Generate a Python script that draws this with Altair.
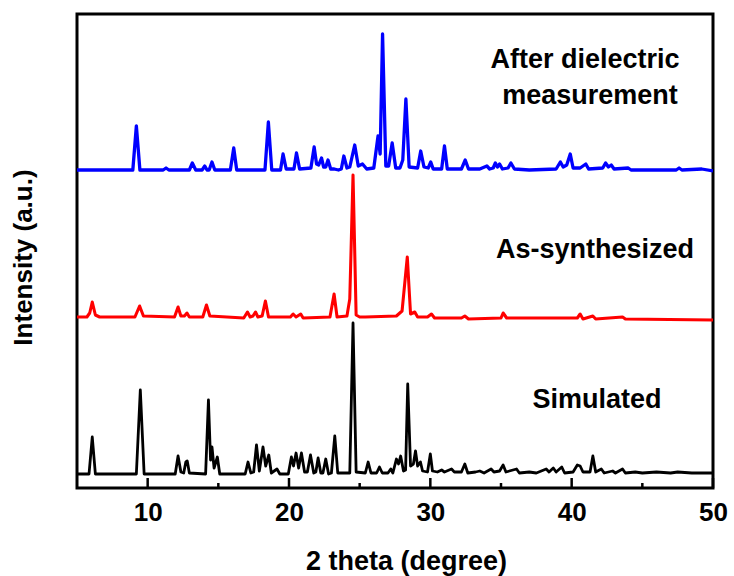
import altair as alt
import pandas as pd

# ---- Simulated (black) : 2theta and intensity above its own baseline ----
sim_2theta = [5.0, 5.85, 6.08, 6.3, 9.2, 9.48, 9.75, 11.95, 12.15, 12.35, 12.55, 12.7, 12.8, 12.95,
              14.1, 14.3, 14.45, 14.55, 14.7, 14.93, 15.1, 16.9, 17.1, 17.3, 17.5, 17.7, 17.9, 18.16,
              18.35, 18.57, 18.75, 19.15, 19.35, 19.95, 20.17, 20.32, 20.5, 20.68, 20.88, 21.1, 21.3,
              21.52, 21.75, 21.9, 22.06, 22.25, 22.4, 22.6, 22.8, 23.0, 23.24, 23.45, 24.3, 24.53,
              24.75, 25.4, 25.6, 25.8, 26.2, 26.4, 26.6, 27.0, 27.2, 27.35, 27.6, 27.75, 27.9, 28.1,
              28.25, 28.4, 28.6, 28.8, 28.95, 29.1, 29.3, 29.45, 29.8, 30.0, 30.15, 30.5, 30.8, 31.0,
              31.5, 31.7, 32.2, 32.44, 32.65, 33.2, 33.5, 33.8, 34.3, 34.5, 34.9, 35.15, 35.35, 36.1,
              36.3, 37.0, 37.5, 38.2, 38.4, 38.7, 38.9, 39.3, 39.5, 40.1, 40.4, 40.6, 40.8, 41.3,
              41.5, 41.7, 42.1, 42.3, 42.9, 43.1, 43.6, 43.8, 44.5, 45.0, 46.0, 47.0, 47.5, 48.5, 50.0]
sim_int = [0, 0, 37, 0, 0, 84, 0, 0, 18, 2, 1, 12, 13, 1,
           0, 74, 14, 27, 6, 17, 0, 0, 12, 1, 2, 29, 3, 27,
           8, 19, 1, 5, 0, 0, 17, 8, 21, 6, 21, 2, 2,
           19, 1, 2, 16, 1, 1, 15, 0, 1, 38, 1, 1, 151,
           2, 1, 12, 1, 1, 7, 1, 1, 5, 1, 15, 10, 18, 3,
           4, 90, 8, 10, 23, 8, 12, 3, 2, 20, 3, 2, 4, 2,
           5, 2, 2, 10, 1, 2, 3, 1, 5, 2, 3, 9, 2, 5,
           1, 2, 1, 5, 2, 6, 2, 7, 1, 2, 9, 8, 2, 2,
           18, 2, 5, 1, 3, 1, 5, 1, 2, 1, 2, 1, 2, 1, 1]

# ---- As-synthesized (red) ----
syn_2theta = [5.0, 5.7, 5.9, 6.08, 6.3, 6.6, 9.1, 9.43, 9.7, 11.9, 12.15, 12.35, 12.6, 12.78, 12.95,
              13.9, 14.16, 14.4, 16.8, 17.06, 17.25, 17.45, 17.63, 17.8, 18.1, 18.33, 18.55, 20.1,
              20.29, 20.5, 20.83, 21.0, 22.9, 23.19, 23.4, 24.1, 24.3, 24.53, 24.75, 25.0, 25.4,
              27.6, 28.0, 28.37, 28.6, 28.9, 29.1, 29.8, 30.08, 30.3, 32.2, 32.44, 32.7, 35.0, 35.15,
              35.4, 40.4, 40.6, 40.8, 41.5, 41.7, 43.6, 43.8, 50.0]
syn_int = [2, 2, 6, 17, 4, 2, 2, 13, 3, 2, 12, 3, 3, 6, 2,
           2, 14, 3, 1, 7, 2, 3, 7, 2, 3, 18, 2, 2,
           5, 2, 5, 1, 2, 25, 2, 3, 20, 144, 4, 2, 2,
           3, 8, 62, 5, 7, 2, 2, 5, 1, 1, 3, 0, 1, 6,
           1, 1, 5, 0, 3, 0, 2, 0, -1]

# ---- After dielectric measurement (blue) ----
aft_2theta = [5.0, 8.95, 9.2, 9.45, 11.1, 11.3, 11.5, 12.95, 13.16, 13.4, 13.85, 14.04, 14.2, 14.35,
              14.55, 14.75, 15.85, 16.09, 16.3, 18.3, 18.54, 18.78, 19.4, 19.58, 19.8, 20.35, 20.53,
              20.75, 21.55, 21.78, 21.95, 22.1, 22.3, 22.45, 22.6, 22.76, 22.95, 23.2, 23.5, 23.7,
              23.88, 24.1, 24.3, 24.65, 24.9, 25.2, 25.5, 26.0, 26.3, 26.45, 26.62, 26.85, 27.05,
              27.3, 27.55, 27.85, 28.05, 28.27, 28.5, 29.1, 29.32, 29.55, 29.85, 30.03, 30.2, 30.8,
              31.0, 31.2, 32.2, 32.47, 32.7, 33.5, 34.0, 34.2, 34.45, 34.6, 34.75, 34.9, 35.1, 35.5,
              35.7, 35.95, 37.0, 38.9, 39.2, 39.4, 39.65, 39.9, 40.1, 40.6, 41.0, 41.2, 42.2, 42.4,
              42.6, 42.8, 43.0, 44.0, 44.2, 47.4, 47.6, 47.8, 49.2, 50.0]
aft_int = [0, 0, 44, 0, 0, 2, 0, 0, 7, 0, 0, 4, 0, 0,
           8, 0, 0, 22, 0, 0, 48, 0, 0, 16, 1, 1, 17,
           1, 2, 23, 6, 5, 12, 3, 3, 10, 1, 1, 0, 1,
           14, 2, 3, 25, 4, 6, 1, 2, 34, 16, 136, 4, 4,
           27, 2, 2, 10, 71, 3, 2, 19, 3, 2, 8, 1, 1,
           24, 1, 1, 10, 1, 1, 4, 1, 2, 7, 3, 6, 1, 2,
           7, 1, 0, 1, 8, 3, 5, 16, 2, 2, 6, 1, 2, 7,
           3, 5, 1, 2, 0, 0, 2, 0, 1, -1]

series_names = ["Simulated", "As-synthesized", "After dielectric measurement"]
series_offsets = [14, 169, 318]
series_colors = ["#000000", "#ff0000", "#0000ff"]
series_widths = [2.8, 3.3, 3.1]

major_ticks = [10, 20, 30, 40, 50]
minor_ticks = [15, 25, 35, 45]

label_lines = ["After dielectric", "measurement", "As-synthesized", "Simulated"]
label_2theta = [40.94, 41.3, 41.65, 41.79]
label_int = [420, 384, 230, 80]

rows = []
for name, off, xs, ys in zip(series_names, series_offsets,
                             [sim_2theta, syn_2theta, aft_2theta],
                             [sim_int, syn_int, aft_int]):
    for i, (a, b) in enumerate(zip(xs, ys)):
        rows.append({"series": name, "idx": i, "two_theta": a, "intensity": b + off})
df = pd.DataFrame(rows)

ticks_df = pd.DataFrame(
    [{"t": t, "y0": 0, "y1": 10} for t in major_ticks] +
    [{"t": t, "y0": 0, "y1": 5} for t in minor_ticks]
)
labels_df = pd.DataFrame({"text": label_lines, "x": label_2theta, "y": label_int})

FONT = "Liberation Sans"
xscale = alt.Scale(domain=[5, 50], nice=False)
yscale = alt.Scale(domain=[0, 474], nice=False, zero=False)

lines = alt.Chart(df).mark_line(clip=True, strokeJoin="round").encode(
    x=alt.X("two_theta:Q", scale=xscale,
            axis=alt.Axis(values=major_ticks, ticks=False, domain=False, grid=False,
                          labelFont=FONT, labelFontSize=26, labelFontWeight="bold",
                          labelColor="black", labelPadding=11, labelFlush=False,
                          title="2 theta (degree)", titleFont=FONT, titleFontSize=27,
                          titleFontWeight="bold", titleColor="black",
                          titleBaseline="alphabetic", titleAlign="center",
                          titleX=329, titleY=81)),
    y=alt.Y("intensity:Q", scale=yscale,
            axis=alt.Axis(labels=False, ticks=False, domain=False, grid=False,
                          title="Intensity (a.u.)", titleFont=FONT, titleFontSize=26,
                          titleFontWeight="bold", titleColor="black",
                          titleBaseline="alphabetic", titleAlign="center",
                          titleX=-46, titleY=243)),
    color=alt.Color("series:N", scale=alt.Scale(domain=series_names, range=series_colors),
                    legend=None),
    strokeWidth=alt.StrokeWidth("series:N",
                                scale=alt.Scale(domain=series_names, range=series_widths),
                                legend=None),
    detail="series:N",
    order="idx:Q",
)

tick_marks = alt.Chart(ticks_df).mark_rule(color="black", strokeWidth=2.5).encode(
    x=alt.X("t:Q", scale=xscale),
    y=alt.Y("y0:Q", scale=yscale),
    y2=alt.Y2("y1:Q"),
)

texts = alt.Chart(labels_df).mark_text(
    font=FONT, fontSize=27, fontWeight="bold", color="black",
    align="center", baseline="alphabetic"
).encode(
    x=alt.X("x:Q", scale=xscale),
    y=alt.Y("y:Q", scale=yscale),
    text="text:N",
)

chart = alt.layer(lines, tick_marks, texts).properties(
    width=636, height=474,
    padding={"left": 77, "top": 14, "right": 21, "bottom": 88},
    autosize=alt.AutoSizeParams(type="none"),
    background="white",
).configure_view(stroke="black", strokeWidth=3)

chart.save("out.html", embed_options={"renderer": "svg", "actions": False})
